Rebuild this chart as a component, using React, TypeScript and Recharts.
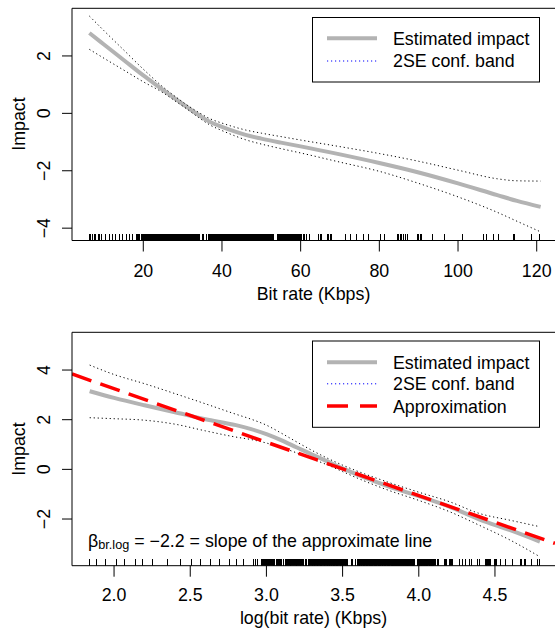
import React from 'react';
import { ComposedChart, Line, Scatter, XAxis, YAxis, ReferenceLine } from 'recharts';

// ---------- data ----------
// top panel: bit rate (Kbps)
const topBitRate = [6.3, 10, 15, 20, 25, 28, 31, 34, 37, 40, 43, 46, 50, 55, 60, 70, 80, 90, 100, 110, 115, 121];
const topImpact = [2.8, 2.4, 1.86, 1.32, 0.82, 0.52, 0.23, -0.05, -0.3, -0.47, -0.62, -0.75, -0.88, -1.02, -1.15, -1.43, -1.73, -2.06, -2.44, -2.85, -3.05, -3.26];
const topUpper = [3.39, 2.88, 2.21, 1.54, 0.92, 0.6, 0.3, 0.04, -0.19, -0.34, -0.47, -0.58, -0.69, -0.81, -0.93, -1.16, -1.4, -1.67, -1.98, -2.28, -2.35, -2.36];
const topLower = [2.23, 1.92, 1.51, 1.1, 0.72, 0.44, 0.16, -0.14, -0.41, -0.6, -0.77, -0.92, -1.07, -1.23, -1.38, -1.7, -2.02, -2.44, -2.91, -3.45, -3.76, -4.13];

// bottom panel: log(bit rate)
const logRate = [1.84, 2.0, 2.2, 2.4, 2.6, 2.8, 2.9, 3.0, 3.1, 3.2, 3.3, 3.4, 3.5, 3.6, 3.8, 4.0, 4.2, 4.4, 4.6, 4.795];
const logImpact = [3.15, 2.88, 2.58, 2.3, 2.02, 1.78, 1.62, 1.42, 1.17, 0.88, 0.6, 0.32, 0.04, -0.22, -0.68, -1.08, -1.5, -2.02, -2.45, -2.91];
const logUpper = [4.2, 3.82, 3.45, 3.05, 2.64, 2.22, 2.02, 1.78, 1.45, 1.1, 0.76, 0.45, 0.17, -0.08, -0.52, -0.92, -1.3, -1.78, -2.05, -2.31];
const logLower = [2.08, 2.04, 1.98, 1.82, 1.55, 1.3, 1.2, 1.06, 0.88, 0.66, 0.42, 0.18, -0.09, -0.36, -0.84, -1.25, -1.7, -2.26, -2.85, -3.52];

// approximation line (abline) end points
const approxLogRate = [1.724, 4.894];
const approxImpact = [3.84, -2.98];

// observed bit rates (rug)
const rugBitRate = [
  6.3, 6.6, 7.0, 7.5, 7.9, 8.5, 8.9, 9.5, 10.5, 11.4, 12.3, 13.0, 13.9, 14.8, 15.8, 16.5, 17.3, 18.4, 18.5, 18.7, 19.0,
  19.5, 19.6, 19.7, 19.8, 20.0, 20.1, 20.2, 20.4, 20.5, 20.6, 20.8, 20.9, 21.0, 21.1, 21.2, 21.4, 21.6, 21.7, 21.9, 22.0,
  22.1, 22.2, 22.4, 22.5, 22.7, 22.8, 22.9, 23.0, 23.2, 23.3, 23.5, 23.6, 23.7, 23.8, 24.0, 24.1, 24.3, 24.4, 24.5, 24.6,
  24.8, 24.9, 25.1, 25.2, 25.3, 25.4, 25.6, 25.7, 25.9, 26.0, 26.1, 26.2, 26.4, 26.5, 26.7, 26.9, 27.0, 27.1, 27.2, 27.3,
  27.5, 27.6, 27.8, 27.9, 28.0, 28.1, 28.3, 28.4, 28.6, 28.7, 28.8, 28.9, 29.1, 29.2, 29.4, 29.5, 29.6, 29.7, 29.9, 30.0,
  30.2, 30.3, 30.4, 30.5, 30.7, 30.8, 31.0, 31.1, 31.2, 31.3, 31.5, 31.6, 31.8, 31.9, 32.0, 32.1, 32.3, 32.4, 32.6, 32.7,
  32.9, 33.0, 33.1, 33.2, 33.4, 33.5, 33.7, 33.8, 34.0, 34.1, 34.3,
  35.0, 35.4, 36.0,
  36.6, 36.7, 36.9, 37.0, 37.1, 37.3, 37.4, 37.6, 37.8, 37.9, 38.0, 38.2, 38.3, 38.5, 38.7, 38.8, 39.0, 39.1, 39.2, 39.4,
  39.5, 39.7, 39.9, 40.0, 40.1, 40.3, 40.4, 40.6, 40.8, 40.9, 41.0, 41.2, 41.3, 41.5, 41.7, 41.8, 42.0, 42.1, 42.2, 42.4,
  42.6, 42.7, 42.9, 43.0, 43.1, 43.3, 43.5, 43.6, 43.8, 44.0, 44.2, 44.4, 44.5, 44.7, 44.8, 45.0, 45.1, 45.3, 45.5, 45.6,
  45.8, 45.9, 46.0, 46.2, 46.3, 46.5, 46.7, 46.9, 47.0, 47.1, 47.2, 47.4, 47.6, 47.8, 47.9, 48.1, 48.2, 48.3, 48.5, 48.7,
  48.9, 49.0, 49.1, 49.3, 49.5, 49.6, 49.8, 49.9, 50.1, 50.3, 50.4, 50.6, 50.7, 50.8, 51.0, 51.2, 51.3, 51.5, 51.6, 51.8,
  52.0, 52.1, 52.3, 52.4, 52.6, 52.8, 52.9, 53.1,
  54.0, 54.1, 54.3, 54.5, 54.7, 54.8, 55.0, 55.1, 55.2, 55.4, 55.6, 55.7, 55.9, 56.0, 56.2, 56.3, 56.5, 56.6, 56.8, 57.0,
  57.1, 57.3, 57.5, 57.6, 57.8, 57.9, 58.0, 58.2, 58.4, 58.5, 58.7, 58.9, 59.0, 59.2, 59.3, 59.5, 59.7, 59.8, 60.0,
  60.3, 60.7, 61.1, 61.6, 62.2, 64.5, 65.0, 65.4, 66.7, 67.1, 67.5, 67.9, 71.3, 72.6, 74.3, 76.0, 77.3, 80.2, 81.3,
  84.5, 84.9, 85.3, 85.7, 86.2, 86.6, 87.2, 89.6, 90.0, 90.4, 90.8, 93.6, 96.6, 101.2, 106.4, 107.2, 109.1, 110.3,
  114.1, 114.4, 118.7, 120.8,
];

const topXTicks = [20, 40, 60, 80, 100, 120];
const topYTicks = [-4, -2, 0, 2];
const botXTicks = [2.0, 2.5, 3.0, 3.5, 4.0, 4.5];
const botYTicks = [-2, 0, 2, 4];

const legendLabels = ['Estimated impact', '2SE conf. band', 'Approximation'];

// ---------- styles ----------
const FONT = '"Liberation Sans", Arial, Helvetica, sans-serif';
const FS = 17.8;
const GRAY = '#b3b3b3';
const RED = '#ff0000';

const rows = (xs: number[], ys: number[]) => xs.map((x, i) => ({ x, y: ys[i] }));

const TOP_X_DOMAIN: [number, number] = [1.88, 124.65];
const TOP_Y_DOMAIN: [number, number] = [-4.43, 3.66];
const BOT_X_DOMAIN: [number, number] = [1.724, 4.894];
const BOT_Y_DOMAIN: [number, number] = [-3.88, 5.52];

const fmtInt = (v: number) => (v < 0 ? '\u2212' + Math.abs(v) : String(v));
const fmt1 = (v: number) => v.toFixed(1);

const makeXTick = (baseline: number, fmt: (v: number) => string) => (props: any) => (
  <text x={props.x} y={baseline} textAnchor="middle" fontFamily={FONT} fontSize={FS} fill="#000">
    {fmt(props.payload.value)}
  </text>
);

const makeYTick = (fmt: (v: number) => string) => (props: any) => {
  const y = props.y;
  return (
    <text
      x={50}
      y={y}
      transform={`rotate(-90 50 ${y})`}
      textAnchor="middle"
      fontFamily={FONT}
      fontSize={FS}
      fill="#000"
    >
      {fmt(props.payload.value)}
    </text>
  );
};

const RugMark = (props: any) => {
  const { cx, cy } = props;
  if (cx == null || cy == null) return <g />;
  return (
    <line
      x1={cx}
      x2={cx}
      y1={cy}
      y2={cy - 7}
      stroke="#000"
      strokeWidth={1}
      shapeRendering="crispEdges"
    />
  );
};

function Panel(props: {
  height: number;
  marginTop: number;
  xAxisHeight: number;
  xDomain: [number, number];
  yDomain: [number, number];
  xTicks: number[];
  yTicks: number[];
  xFmt: (v: number) => string;
  tickBaseline: number;
  impact: { x: number; y: number }[];
  upper: { x: number; y: number }[];
  lower: { x: number; y: number }[];
  rug: { x: number; y: number }[];
  approx?: { x: number; y: number }[];
}) {
  return (
    <ComposedChart
      width={555}
      height={props.height}
      margin={{ top: props.marginTop, right: 0, bottom: 0, left: 0 }}
    >
      <XAxis
        type="number"
        dataKey="x"
        domain={props.xDomain}
        allowDataOverflow
        ticks={props.xTicks}
        interval={0}
        height={props.xAxisHeight}
        tickSize={11}
        axisLine={{ stroke: '#000', strokeWidth: 1 }}
        tickLine={{ stroke: '#000', strokeWidth: 1 }}
        tick={makeXTick(props.tickBaseline, props.xFmt)}
      />
      <YAxis
        type="number"
        dataKey="y"
        domain={props.yDomain}
        allowDataOverflow
        ticks={props.yTicks}
        interval={0}
        width={72}
        tickSize={10}
        axisLine={{ stroke: '#000', strokeWidth: 1 }}
        tickLine={{ stroke: '#000', strokeWidth: 1 }}
        tick={makeYTick(fmtInt)}
      />
      <ReferenceLine y={props.yDomain[1]} stroke="#000" strokeWidth={1} />
      <Line
        data={props.impact}
        dataKey="y"
        type="monotone"
        stroke={GRAY}
        strokeWidth={4}
        dot={false}
        activeDot={false}
        isAnimationActive={false}
      />
      <Line
        data={props.upper}
        dataKey="y"
        type="monotone"
        stroke="#000"
        strokeWidth={1}
        strokeDasharray="1.2 2.8"
        dot={false}
        activeDot={false}
        isAnimationActive={false}
      />
      <Line
        data={props.lower}
        dataKey="y"
        type="monotone"
        stroke="#000"
        strokeWidth={1}
        strokeDasharray="1.2 2.8"
        dot={false}
        activeDot={false}
        isAnimationActive={false}
      />
      {props.approx ? (
        <Line
          data={props.approx}
          dataKey="y"
          type="linear"
          stroke={RED}
          strokeWidth={3.5}
          strokeDasharray="20.5 9.5"
          dot={false}
          activeDot={false}
          isAnimationActive={false}
        />
      ) : null}
      <Scatter data={props.rug} dataKey="y" shape={RugMark} isAnimationActive={false} />
    </ComposedChart>
  );
}

const textStyle = { fontFamily: FONT, fontSize: FS, fill: '#000' } as const;

export default function App() {
  const topRug = rugBitRate.map((v) => ({ x: v, y: TOP_Y_DOMAIN[0] }));
  const botRug = rugBitRate.map((v) => ({ x: Math.log(v), y: BOT_Y_DOMAIN[0] }));

  return (
    <div style={{ position: 'absolute', left: 0, top: 0, width: 555, height: 631, overflow: 'hidden', background: '#fff' }}>
      <div style={{ position: 'absolute', left: 0, top: 0 }}>
        <Panel
          height={315}
          marginTop={8.3}
          xAxisHeight={74.5}
          xDomain={TOP_X_DOMAIN}
          yDomain={TOP_Y_DOMAIN}
          xTicks={topXTicks}
          yTicks={topYTicks}
          xFmt={fmtInt}
          tickBaseline={276.7}
          impact={rows(topBitRate, topImpact)}
          upper={rows(topBitRate, topUpper)}
          lower={rows(topBitRate, topLower)}
          rug={topRug}
        />
      </div>
      <div style={{ position: 'absolute', left: 0, top: 315 }}>
        <Panel
          height={316}
          marginTop={17.3}
          xAxisHeight={65.3}
          xDomain={BOT_X_DOMAIN}
          yDomain={BOT_Y_DOMAIN}
          xTicks={botXTicks}
          yTicks={botYTicks}
          xFmt={fmt1}
          tickBaseline={285.7}
          impact={rows(logRate, logImpact)}
          upper={rows(logRate, logUpper)}
          lower={rows(logRate, logLower)}
          rug={botRug}
          approx={rows(approxLogRate, approxImpact)}
        />
      </div>
      <svg
        width={555}
        height={631}
        style={{ position: 'absolute', left: 0, top: 0, pointerEvents: 'none' }}
      >
        {/* axis titles */}
        <text x={313.5} y={300} textAnchor="middle" style={textStyle}>Bit rate (Kbps)</text>
        <text x={25} y={124} textAnchor="middle" transform="rotate(-90 25 124)" style={textStyle}>Impact</text>
        <text x={313.5} y={624} textAnchor="middle" style={textStyle}>log(bit rate) (Kbps)</text>
        <text x={25} y={449} textAnchor="middle" transform="rotate(-90 25 449)" style={textStyle}>Impact</text>

        {/* top legend */}
        <rect x={312.5} y={17.5} width={227} height={64.5} fill="#fff" stroke="#000" strokeWidth={1} />
        <line x1={327} x2={377} y1={38.3} y2={38.3} stroke={GRAY} strokeWidth={4} />
        <line x1={327} x2={377} y1={61} y2={61} stroke="#0000ff" strokeWidth={1} strokeDasharray="1.2 2.8" />
        <text x={393} y={44.6} style={textStyle}>{legendLabels[0]}</text>
        <text x={393} y={67.3} style={textStyle}>{legendLabels[1]}</text>

        {/* bottom legend */}
        <rect x={312.5} y={341} width={227} height={86.3} fill="#fff" stroke="#000" strokeWidth={1} />
        <line x1={327} x2={377} y1={362.3} y2={362.3} stroke={GRAY} strokeWidth={4} />
        <line x1={327} x2={377} y1={383.8} y2={383.8} stroke="#0000ff" strokeWidth={1} strokeDasharray="1.2 2.8" />
        <line x1={327} x2={377} y1={406} y2={406} stroke={RED} strokeWidth={3.5} strokeDasharray="21 12" />
        <text x={393} y={368.6} style={textStyle}>{legendLabels[0]}</text>
        <text x={393} y={390} style={textStyle}>{legendLabels[1]}</text>
        <text x={393} y={412.5} style={textStyle}>{legendLabels[2]}</text>

        {/* annotation */}
        <text x={88} y={546.7} style={textStyle}>
          β
          <tspan fontSize={12.7} dy={2.6}>br.log</tspan>
          <tspan dy={-2.6}> = −2.2 = slope of the approximate line</tspan>
        </text>
      </svg>
    </div>
  );
}
